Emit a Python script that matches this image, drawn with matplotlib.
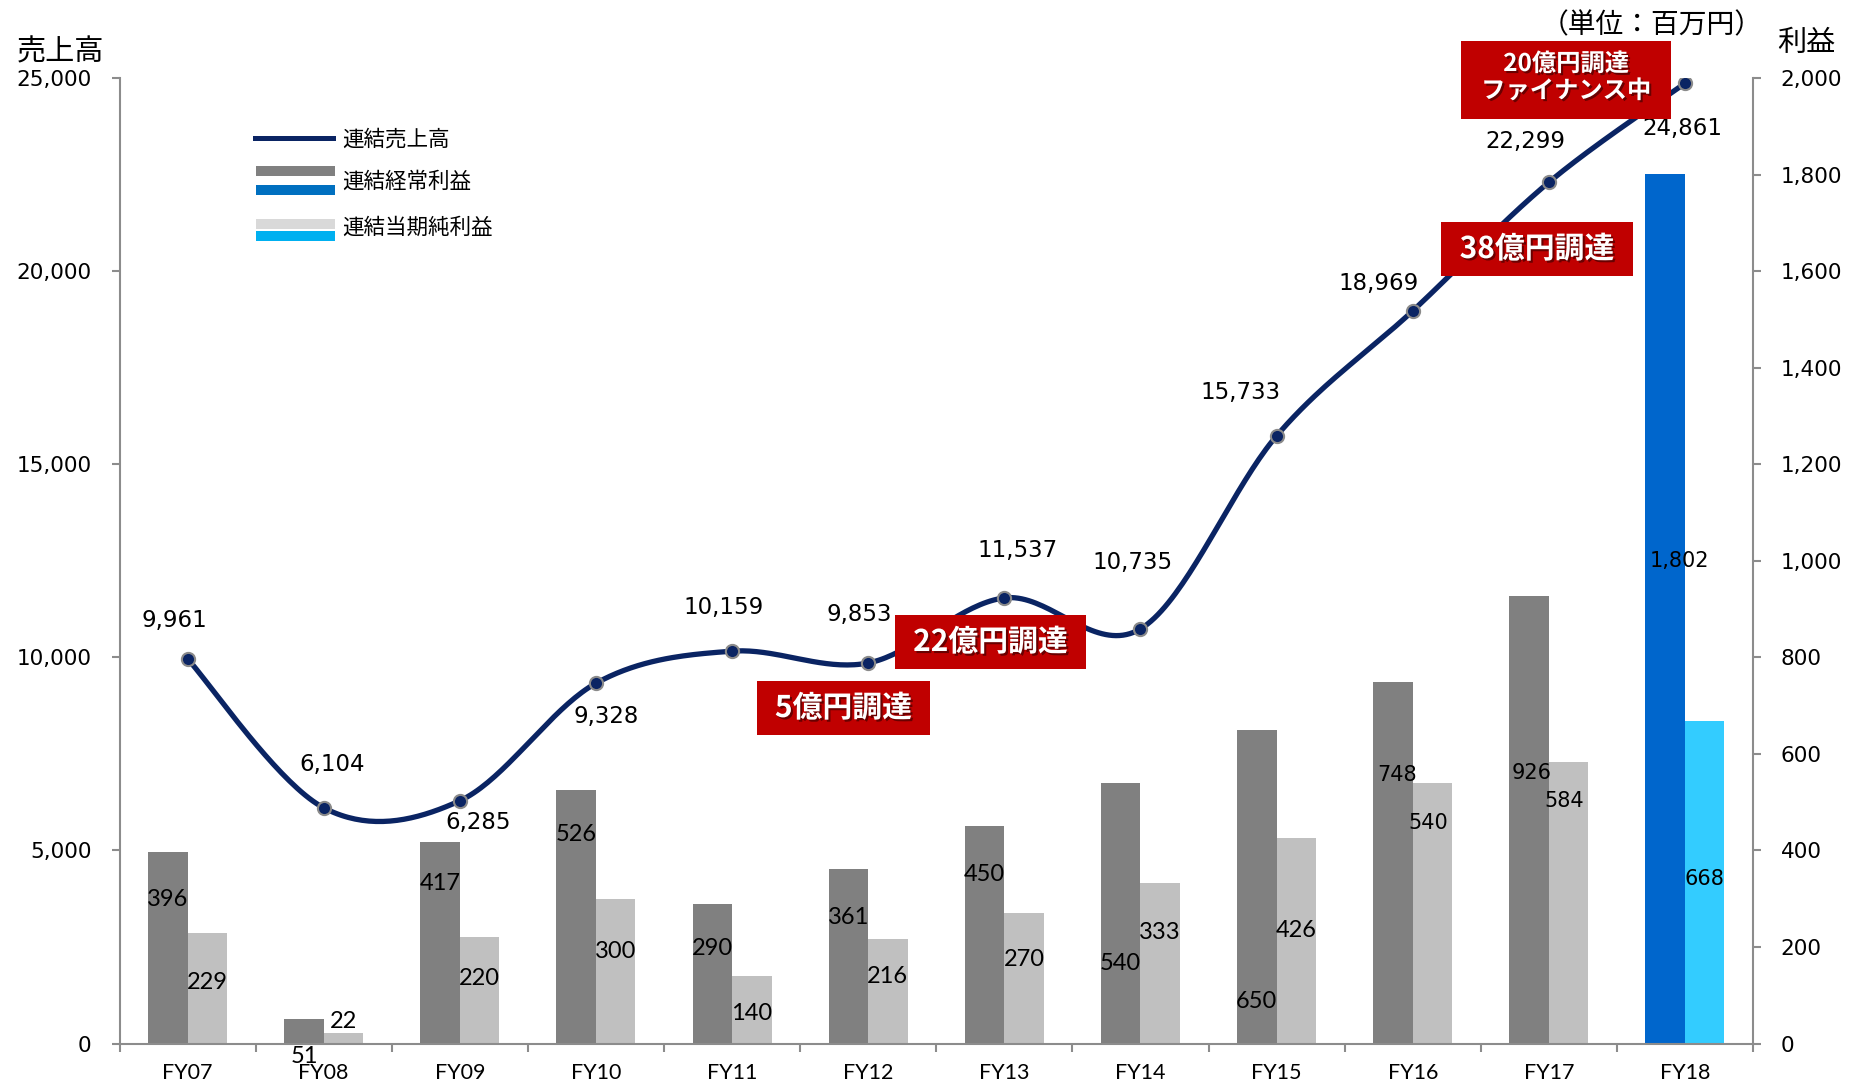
import matplotlib
matplotlib.use("Agg")
import matplotlib.pyplot as plt
import matplotlib.patheffects as pe
import numpy as np
from matplotlib.patches import Rectangle
from matplotlib.lines import Line2D
from matplotlib.ticker import FuncFormatter, FixedLocator

years = ["FY07", "FY08", "FY09", "FY10", "FY11", "FY12",
         "FY13", "FY14", "FY15", "FY16", "FY17", "FY18"]
sales = [9961, 6104, 6285, 9328, 10159, 9853, 11537, 10735, 15733, 18969, 22299, 24861]
ordinary = [396, 51, 417, 526, 290, 361, 450, 540, 650, 748, 926, 1802]
net = [229, 22, 220, 300, 140, 216, 270, 333, 426, 540, 584, 668]

# where the bar value labels sit (right-axis units) and small x nudges in px
ord_label_y = [299, -26, 331, 433, 197, 260, 351, 166, 88, 557, 560, 999]
net_label_y = [126, 45, 134, 190, 62, 138, 175, 230, 235, 457, 503, 340]
ord_label_dx = [0, 0, 0, 0, 0, 0, 0, 0, 0, 4, 3, 14]
net_label_dx = [0, 0, 0, 0, 0, 0, 0, 0, 0, -4, -4, 0]
# sales label offsets in px (dx right, dy down)
sales_dx = [-13, 8, 18, 10, -8, -9, 13, -8, -36, -34, -23, -3]
sales_dy = [-38, -43, 22, 33, -44, -48, -47, -66, -43, -27, -41, 45]

NAVY = "#0a2463"
AXIS = "#8c8c8c"
W, H = 1853, 1081
JP = ["Noto Sans CJK JP", "DejaVu Sans"]


def smooth(xs, ys, n=40):
    # Excel-style smoothed line: cubic Bezier with Catmull-Rom control points
    p = np.column_stack([xs, ys]).astype(float)
    pad = np.vstack([p[:1], p, p[-1:]])
    out = []
    t = np.linspace(0, 1, n)[:, None]
    for i in range(len(p) - 1):
        p0, p3 = p[i], p[i + 1]
        c1 = p0 + (pad[i + 2] - pad[i]) / 6
        c2 = p3 - (pad[i + 3] - pad[i + 1]) / 6
        seg = (1 - t) ** 3 * p0 + 3 * (1 - t) ** 2 * t * c1 + 3 * (1 - t) * t ** 2 * c2 + t ** 3 * p3
        out.append(seg if i == 0 else seg[1:])
    return np.vstack(out)


def fx(px):
    return px / W


def fy(py):
    return 1 - py / H


fig = plt.figure(figsize=(W / 100, H / 100), dpi=100)
ax = fig.add_axes([fx(119.5), fy(1043.5), fx(1753 - 119.5), (1043.5 - 78) / H])
ax2 = ax.twinx()
ax.set_zorder(ax2.get_zorder() + 1)
ax.patch.set_visible(False)

x = np.arange(len(years))
bw = 0.29
ord_colors = ["#808080"] * (len(years) - 1) + ["#0066cc"]
net_colors = ["#c0c0c0"] * (len(years) - 1) + ["#33ccff"]
ax2.bar(x - bw / 2, ordinary, bw, color=ord_colors, zorder=2)
ax2.bar(x + bw / 2, net, bw, color=net_colors, zorder=2)

for i in range(len(years)):
    fam = "DejaVu Sans" if i >= 9 else "Lato"
    fs = 15 if i >= 9 else 17
    ax2.annotate(f"{ordinary[i]:,}", (x[i] - bw / 2, ord_label_y[i]),
                 xytext=(ord_label_dx[i], 0), textcoords="offset pixels",
                 ha="center", va="center", fontsize=fs, family=fam, zorder=3,
                 annotation_clip=False)
    ax2.annotate(f"{net[i]:,}", (x[i] + bw / 2, net_label_y[i]),
                 xytext=(net_label_dx[i], 0), textcoords="offset pixels",
                 ha="center", va="center", fontsize=fs, family=fam, zorder=3,
                 annotation_clip=False)

curve = smooth(x, sales)
ax.plot(curve[:, 0], curve[:, 1], color=NAVY, lw=3.8, solid_capstyle="round", zorder=3)
ax.plot(x, sales, "o", ms=9.5, mfc=NAVY, mec="#8a8a8a", mew=1.5, zorder=4)
for i, v in enumerate(sales):
    ax.annotate(f"{v:,}", (x[i], v), xytext=(sales_dx[i], -sales_dy[i]),
                textcoords="offset pixels", ha="center", va="center",
                fontsize=16.5, family="DejaVu Sans", zorder=5)

ax.set_xlim(-0.5, len(years) - 0.5)
ax.set_ylim(0, 25000)
ax2.set_ylim(0, 2000)
ax.yaxis.set_major_locator(FixedLocator(range(0, 25001, 5000)))
ax2.yaxis.set_major_locator(FixedLocator(range(0, 2001, 200)))
comma = FuncFormatter(lambda v, p: f"{int(v):,}")
ax.yaxis.set_major_formatter(comma)
ax2.yaxis.set_major_formatter(comma)

ax.set_xticks(x)
ax.set_xticklabels(years, family="Lato", fontsize=15.5)
ax.set_xticks(np.arange(-0.5, len(years)), minor=True)
ax.tick_params(axis="x", which="major", length=0, pad=14)
ax.tick_params(axis="x", which="minor", length=6, width=1.5, color=AXIS, direction="out")
ax.tick_params(axis="y", length=6, width=1.5, color=AXIS, labelsize=15.5, pad=14)
ax2.tick_params(axis="y", length=6, width=1.5, color=AXIS, labelsize=15.5, pad=14)
for lab in ax.get_yticklabels() + ax2.get_yticklabels():
    lab.set_family("DejaVu Sans")

for s in ["top", "right"]:
    ax.spines[s].set_visible(False)
for s in ["top", "left", "bottom"]:
    ax2.spines[s].set_visible(False)
for sp in [ax.spines["left"], ax.spines["bottom"], ax2.spines["right"]]:
    sp.set_color(AXIS)
    sp.set_linewidth(1.5)

# axis titles and unit
fig.text(fx(60), fy(52), "売上高", ha="center", va="center", fontsize=21, family=JP)
fig.text(fx(1652), fy(25), "（単位：百万円）", ha="center", va="center", fontsize=20, family=JP)
fig.text(fx(1806), fy(43), "利益", ha="center", va="center", fontsize=21, family=JP)

# legend drawn by hand: one line swatch, two paired colour swatches
fig.add_artist(Line2D([fx(255), fx(333)], [fy(138), fy(138)], color=NAVY, lw=3.6))
swatches = [(166, "#808080"), (185, "#0070c0"), (219, "#d9d9d9"), (231, "#00b0f0")]
for top, col in swatches:
    fig.add_artist(Rectangle((fx(256), fy(top + 10)), fx(79), 10 / H, color=col, lw=0))
for yc, txt in [(140, "連結売上高"), (182, "連結経常利益"), (228, "連結当期純利益")]:
    fig.text(fx(342), fy(yc), txt, ha="left", va="center", fontsize=15.5, family=JP)

# funding callouts
shadow = [pe.SimplePatchShadow(offset=(1.5, -1.5), shadow_rgbFace="black", alpha=0.45), pe.Normal()]
boxes = [
    (1461, 1671, 41, 119, [("20億円調達", 64), ("ファイナンス中", 91)], 17.5),
    (1441, 1633, 222, 276, [("38億円調達", 249)], 21.5),
    (895, 1086, 615, 669, [("22億円調達", 642)], 21.5),
    (757, 930, 681, 735, [("5億円調達", 708)], 21.5),
]
for x0, x1, y0, y1, lines, fs in boxes:
    fig.add_artist(Rectangle((fx(x0), fy(y1)), fx(x1 - x0), (y1 - y0) / H,
                             color="#c00000", lw=0, zorder=6))
    for txt, yc in lines:
        fig.text(fx((x0 + x1) / 2), fy(yc), txt, ha="center", va="center",
                 fontsize=fs, weight="bold", color="white", family=JP,
                 path_effects=shadow, zorder=7)

fig.savefig("out.png", dpi=100)
